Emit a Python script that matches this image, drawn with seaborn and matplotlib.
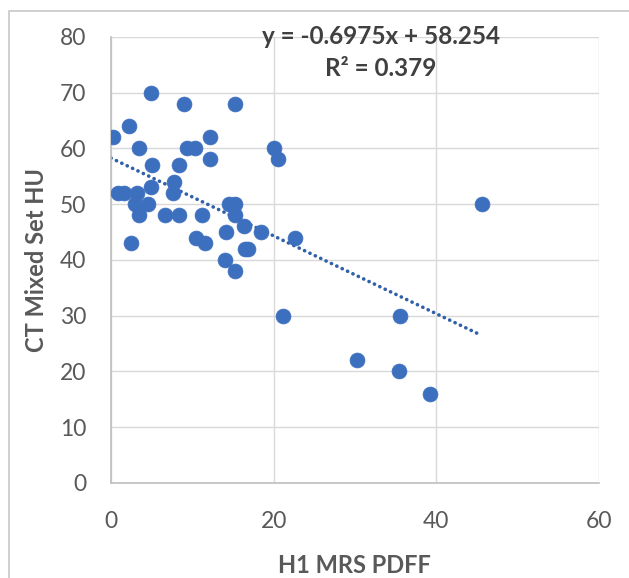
import matplotlib
matplotlib.use("Agg")
import matplotlib.pyplot as plt
import numpy as np
import pandas as pd
import seaborn as sns
from matplotlib.patches import Rectangle

# H1 MRS PDFF vs CT mixed set HU
pdff = [0.25, 2.2, 4.9, 9.0, 15.3, 3.4, 9.3, 10.3, 12.2, 12.2, 5.0, 8.4,
        20.1, 20.6, 0.8, 1.6, 3.2, 3.0, 3.4, 4.9, 4.6, 7.8, 7.6, 6.6, 8.4,
        11.2, 14.5, 15.2, 15.3, 16.3, 18.4, 14.2, 22.6, 10.4, 11.5, 2.5,
        16.5, 16.8, 14.0, 15.3, 21.1, 35.6, 30.3, 35.4, 39.2, 45.6]
hu = [62, 64, 70, 68, 68, 60, 60, 60, 62, 58, 57, 57,
      60, 58, 52, 52, 52, 50, 48, 53, 50, 54, 52, 48, 48,
      48, 50, 50, 48, 46, 45, 45, 44, 44, 43, 43,
      42, 42, 40, 38, 30, 30, 22, 20, 16, 50]
slope = -0.6975
intercept = 58.254
r2 = 0.379

BLUE = "#3d6fbf"
LINE = "#3060a8"
GREY = "#595959"

df = pd.DataFrame({"pdff": pdff, "hu": hu})
trend = pd.DataFrame({"pdff": [0.0, max(pdff)]})
trend["hu"] = slope * trend["pdff"] + intercept

sns.set_theme(style="white")
plt.rcParams["font.family"] = ["Lato", "DejaVu Sans"]

fig = plt.figure(figsize=(6.29, 5.78), dpi=100)
ax = fig.add_axes([0.1765, 0.1644, 0.7755, 0.772])

sns.scatterplot(data=df, x="pdff", y="hu", ax=ax, color=BLUE, s=115,
                edgecolor=BLUE, linewidth=0.5, zorder=3)
sns.lineplot(data=trend, x="pdff", y="hu", ax=ax, color=LINE,
             linestyle=(0, (0.05, 1.6)), linewidth=2.6, zorder=2,
             dash_capstyle="round")

ax.set_xlim(0, 60)
ax.set_ylim(0, 80)
ax.set_xticks(range(0, 61, 20))
ax.set_yticks(range(0, 81, 10))
ax.grid(True, color="#d9d9d9", linewidth=1.0)
ax.set_axisbelow(True)
for side in ["top", "right"]:
    ax.spines[side].set_visible(False)
for side in ["left", "bottom"]:
    ax.spines[side].set_color("#bfbfbf")
    ax.spines[side].set_linewidth(1.2)
ax.tick_params(length=0, labelsize=16.5, colors=GREY)
ax.tick_params(axis="y", pad=18)
ax.tick_params(axis="x", pad=20)
ax.set_xlabel("H1 MRS PDFF", fontsize=17, fontweight="bold", color=GREY,
              labelpad=16)
ax.set_ylabel("CT Mixed Set HU", fontsize=17, fontweight="bold", color=GREY,
              labelpad=8)

ax.text(0.553, 0.965, f"y = {slope}x + {intercept}\nR² = {r2}",
        transform=ax.transAxes, ha="center", va="center", fontsize=17.5,
        fontweight="bold", color="#404040", linespacing=1.45)

fig.patches.append(Rectangle((9 / 629, -0.1), 1.2, 1 - 11 / 578 + 0.1,
                             transform=fig.transFigure, fill=False,
                             edgecolor="#c8c8c8", linewidth=1.2))

fig.savefig("out.png", dpi=100)
